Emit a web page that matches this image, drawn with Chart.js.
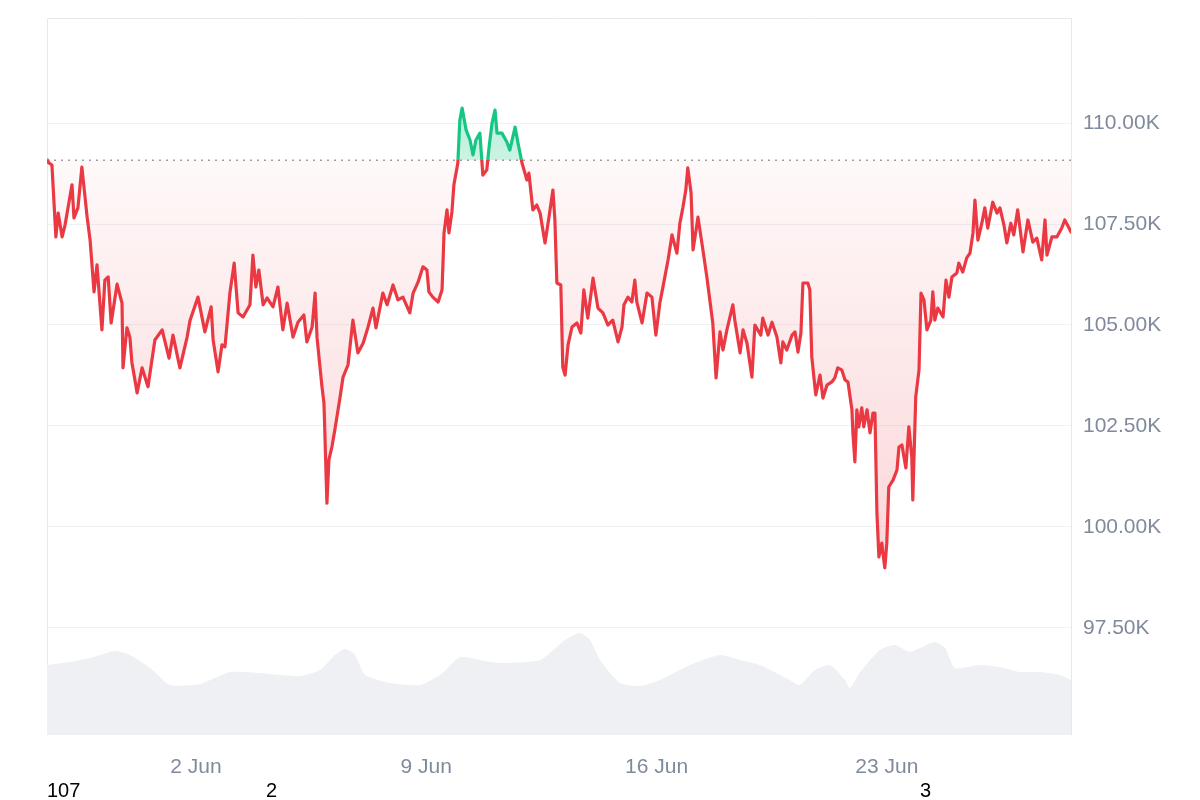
<!DOCTYPE html>
<html>
<head>
<meta charset="utf-8">
<title>Price chart</title>
<script src="https://cdn.jsdelivr.net/npm/chart.js@4.4.1/dist/chart.umd.min.js"></script>
<style>
  html, body { margin: 0; padding: 0; background: #fff; }
  #wrap { position: relative; width: 1200px; height: 800px; }
  .mark { position: absolute; top: 780px; font: 20px/20px "Liberation Sans", Arial, sans-serif; color: #000; }
</style>
</head>
<body>
<div id="wrap">
  <canvas id="chart" width="1200" height="800"></canvas>
  <div class="mark" style="left:47px">107</div>
  <div class="mark" style="left:266px">2</div>
  <div class="mark" style="left:920px">3</div>
</div>
<script>
// ---------- data (x = days since 28 May 00:00, prices in thousands) ----------
const baseline = 109.08;

const priceDays = [
  0.47, 0.50, 0.62, 0.74, 0.81, 0.93, 1.02, 1.23, 1.29, 1.41, 1.53, 1.69, 1.78, 1.90, 1.99,
  2.14, 2.23, 2.33, 2.42, 2.60, 2.75, 2.78, 2.90, 2.99, 3.05, 3.21, 3.36, 3.54, 3.75, 3.97,
  4.18, 4.30, 4.51, 4.73, 4.82, 5.06, 5.27, 5.46, 5.52, 5.67, 5.79, 5.88, 6.03, 6.16, 6.28,
  6.43, 6.64, 6.73, 6.82, 6.91, 7.04, 7.16, 7.34, 7.49, 7.64, 7.77, 7.95, 8.10, 8.28, 8.37,
  8.53, 8.62, 8.68, 8.83, 8.89, 8.98, 9.04, 9.13, 9.22, 9.38, 9.47, 9.62, 9.77, 9.92, 10.08,
  10.23, 10.38, 10.47, 10.68, 10.81, 10.99, 11.14, 11.29, 11.50, 11.60, 11.75, 11.90, 12.02, 12.08, 12.20,
  12.36, 12.48, 12.54, 12.63, 12.69, 12.78, 12.84, 12.96, 13.02, 13.09, 13.21, 13.33, 13.42, 13.51, 13.63,
  13.72, 13.84, 13.91, 14.00, 14.09, 14.15, 14.30, 14.45, 14.54, 14.70, 14.79, 14.91, 15.06, 15.12, 15.24,
  15.36, 15.46, 15.61, 15.73, 15.85, 15.91, 15.97, 16.09, 16.15, 16.22, 16.31, 16.43, 16.58, 16.70, 16.79,
  16.91, 17.07, 17.22, 17.37, 17.52, 17.67, 17.83, 17.95, 18.01, 18.13, 18.25, 18.34, 18.40, 18.56, 18.71,
  18.86, 18.98, 19.10, 19.19, 19.35, 19.47, 19.62, 19.71, 19.80, 19.89, 19.95, 20.05, 20.11, 20.26, 20.41,
  20.53, 20.62, 20.71, 20.81, 20.93, 21.02, 21.14, 21.32, 21.38, 21.54, 21.63, 21.75, 21.90, 21.99, 22.17,
  22.23, 22.39, 22.51, 22.66, 22.78, 22.84, 22.96, 23.12, 23.21, 23.30, 23.39, 23.45, 23.60, 23.66, 23.72,
  23.84, 23.97, 24.06, 24.18, 24.33, 24.42, 24.51, 24.63, 24.73, 24.82, 24.94, 24.97, 25.03, 25.09, 25.15,
  25.24, 25.30, 25.40, 25.49, 25.58, 25.64, 25.70, 25.76, 25.85, 25.88, 25.94, 26.00, 26.06, 26.19, 26.31,
  26.37, 26.46, 26.58, 26.67, 26.76, 26.79, 26.88, 26.98, 27.04, 27.13, 27.22, 27.34, 27.40, 27.46, 27.55,
  27.71, 27.80, 27.89, 27.98, 28.13, 28.19, 28.31, 28.43, 28.53, 28.62, 28.68, 28.77, 28.89, 28.98, 29.07,
  29.22, 29.35, 29.44, 29.56, 29.65, 29.77, 29.86, 29.98, 30.14, 30.29, 30.44, 30.56, 30.71, 30.81, 30.87,
  31.02, 31.17, 31.32, 31.41, 31.54, 31.60
];

const prices = [
  109.08, 109.03, 108.96, 107.18, 107.77, 107.18, 107.48, 108.47, 107.65, 107.90, 108.91, 107.67, 107.10, 105.82, 106.49,
  104.88, 106.11, 106.19, 105.05, 106.01, 105.54, 103.94, 104.93, 104.70, 104.08, 103.32, 103.94, 103.47, 104.63, 104.88,
  104.18, 104.75, 103.94, 104.70, 105.12, 105.69, 104.83, 105.45, 104.63, 103.84, 104.51, 104.46, 105.79, 106.53, 105.30,
  105.20, 105.50, 106.73, 105.94, 106.36, 105.50, 105.67, 105.45, 105.94, 104.88, 105.54, 104.70, 105.07, 105.25, 104.58,
  104.95, 105.79, 104.68, 103.47, 103.07, 100.59, 101.66, 101.98, 102.40, 103.22, 103.71, 104.01, 105.12, 104.31, 104.55,
  104.95, 105.42, 104.93, 105.79, 105.50, 105.99, 105.62, 105.69, 105.30, 105.79, 106.06, 106.44, 106.36, 105.82, 105.69,
  105.57, 105.87, 107.28, 107.85, 107.28, 107.80, 108.47, 109.01, 110.07, 110.37, 109.83, 109.58, 109.21, 109.58, 109.75,
  108.71, 108.84, 109.41, 110.00, 110.32, 109.75, 109.75, 109.53, 109.33, 109.90, 109.50, 109.01, 108.59, 108.76, 107.85,
  107.97, 107.77, 107.03, 107.67, 108.34, 107.60, 106.04, 105.99, 103.96, 103.76, 104.51, 104.95, 105.05, 104.80, 105.87,
  105.17, 106.16, 105.42, 105.30, 105.00, 105.12, 104.58, 104.95, 105.50, 105.69, 105.57, 106.11, 105.57, 105.05, 105.79,
  105.69, 104.75, 105.54, 105.92, 106.61, 107.23, 106.78, 107.52, 107.90, 108.34, 108.89, 108.27, 106.86, 107.67, 106.86,
  106.19, 105.62, 105.05, 103.69, 104.83, 104.38, 104.88, 105.50, 105.12, 104.31, 104.88, 104.55, 103.71, 105.00, 104.75,
  105.17, 104.75, 105.07, 104.70, 104.06, 104.58, 104.38, 104.75, 104.83, 104.33, 104.80, 106.04, 106.04, 105.87, 104.21,
  103.27, 103.76, 103.19, 103.51, 103.59, 103.69, 103.94, 103.89, 103.64, 103.59, 102.90, 102.33, 101.61, 102.90, 102.48,
  102.95, 102.48, 102.90, 102.33, 102.82, 102.82, 100.35, 99.26, 99.60, 99.36, 98.99, 99.60, 100.99, 101.16, 101.41,
  101.98, 102.03, 101.46, 102.48, 101.73, 100.67, 103.22, 103.89, 105.79, 105.62, 104.88, 105.12, 105.82, 105.12, 105.42,
  105.20, 106.11, 105.69, 106.19, 106.29, 106.53, 106.31, 106.66, 106.78, 107.28, 108.09, 107.10, 107.52, 107.90, 107.40,
  108.04, 107.77, 107.90, 107.48, 107.03, 107.52, 107.23, 107.85, 106.81, 107.60, 107.05, 107.15, 106.61, 107.60, 106.73,
  107.18, 107.18, 107.40, 107.60, 107.40, 107.30
];

// volume (billions), sampled more coarsely
const volumeDays = [
  0.47, 1.17, 1.78, 2.54, 2.99, 3.60, 4.21, 5.12, 6.03, 6.95, 8.16, 8.77, 9.22, 9.53, 9.83,
  10.14, 10.90, 11.81, 12.42, 13.02, 13.63, 14.24, 15.46, 16.22, 16.67, 16.98, 17.28, 17.89, 18.50, 19.10,
  20.02, 20.93, 21.54, 22.14, 23.05, 23.36, 23.81, 24.27, 24.73, 24.88, 25.19, 25.79, 26.25, 26.70, 27.01,
  27.46, 27.77, 28.07, 28.82, 29.43, 30.05, 30.65, 31.26, 31.60
];
const volumes = [
  35, 36.5, 38.5, 42, 40, 33.5, 25, 25.5, 31.5, 31, 29.5, 32.5, 40, 43, 40,
  30, 26, 25, 30, 39, 37.5, 36, 37.5, 47.5, 51, 47.5, 37.5, 26, 24.5, 27.5,
  35, 40, 37.5, 35, 27.5, 25, 32.5, 35, 27.5, 23.5, 31.5, 42.5, 45, 41.5, 43.5,
  46.5, 43.5, 33.5, 35, 34, 31.5, 31.5, 30, 27.5
];

const yTicks = [97.5, 100, 102.5, 105, 107.5, 110];
const xTickDays = [5, 12, 19, 26];
const xTickLabels = ["2 Jun", "9 Jun", "16 Jun", "23 Jun"];

// ---------- styling ----------
const RED = "#ea3943";
const GREEN = "#16c784";
const AXIS_TEXT = "#808a9d";
const FONT = "'Liberation Sans', Arial, sans-serif";

// vertical gradient that switches colour exactly at the baseline
function splitGradient(ctx, stops) {
  const chart = ctx.chart;
  const area = chart.chartArea;
  if (!area) return null;
  const yb = chart.scales.y.getPixelForValue(baseline);
  const s = Math.min(Math.max((yb - area.top) / (area.bottom - area.top), 0), 1);
  const g = chart.ctx.createLinearGradient(0, area.top, 0, area.bottom);
  stops(g, s);
  return g;
}

const lineColor = (ctx) =>
  splitGradient(ctx, (g, s) => {
    g.addColorStop(0, GREEN);
    g.addColorStop(s, GREEN);
    g.addColorStop(s, RED);
    g.addColorStop(1, RED);
  }) || RED;

const fillColor = (ctx) =>
  splitGradient(ctx, (g, s) => {
    g.addColorStop(0, "rgba(22,199,132,0.45)");
    g.addColorStop(s, "rgba(22,199,132,0.22)");
    g.addColorStop(s, "rgba(234,57,67,0.03)");
    g.addColorStop(Math.min(s + 0.55, 1), "rgba(234,57,67,0.20)");
    g.addColorStop(1, "rgba(234,57,67,0.20)");
  }) || "rgba(234,57,67,0.06)";

// light frame round the plot area
const framePlugin = {
  id: "frame",
  beforeDatasetsDraw(chart) {
    const { ctx, chartArea: a } = chart;
    ctx.save();
    ctx.strokeStyle = "#e6e8ec";
    ctx.lineWidth = 1;
    ctx.beginPath();
    ctx.moveTo(a.left + 0.5, a.bottom);
    ctx.lineTo(a.left + 0.5, a.top + 0.5);
    ctx.lineTo(a.right + 0.5, a.top + 0.5);
    ctx.lineTo(a.right + 0.5, a.bottom);
    ctx.stroke();
    ctx.restore();
  },
};

new Chart(document.getElementById("chart"), {
  type: "line",
  data: {
    datasets: [
      {
        label: "Price",
        data: priceDays.map((d, i) => ({ x: d, y: prices[i] })),
        borderColor: lineColor,
        backgroundColor: fillColor,
        borderWidth: 3.2,
        borderJoinStyle: "round",
        borderCapStyle: "round",
        pointRadius: 0,
        tension: 0,
        fill: { value: baseline },
        order: 1,
      },
      {
        label: "Open",
        data: [
          { x: priceDays[0], y: baseline },
          { x: priceDays[priceDays.length - 1], y: baseline },
        ],
        borderColor: "#9aa0a8",
        borderWidth: 1.5,
        borderDash: [2, 5],
        pointRadius: 0,
        fill: false,
        order: 2,
      },
      {
        label: "Volume",
        data: volumeDays.map((d, i) => ({ x: d, y: volumes[i] })),
        yAxisID: "yVol",
        borderWidth: 0,
        backgroundColor: "#eef0f3",
        pointRadius: 0,
        tension: 0.2,
        fill: "origin",
        order: 3,
      },
    ],
  },
  options: {
    responsive: false,
    animation: false,
    layout: { padding: { left: 47, top: 18, right: 0, bottom: 0 } },
    plugins: {
      legend: { display: false },
      tooltip: { enabled: false },
    },
    scales: {
      x: {
        type: "linear",
        min: 0.47,
        max: 31.6,
        grid: { display: false, drawTicks: false },
        border: { display: false },
        afterBuildTicks: (s) => { s.ticks = xTickDays.map((v) => ({ value: v })); },
        afterFit: (s) => { s.height = 65; s.paddingLeft = 0; s.paddingRight = 0; },
        ticks: {
          color: AXIS_TEXT,
          font: { family: FONT, size: 21 },
          padding: 20,
          maxRotation: 0,
          autoSkip: false,
          callback: (v) => xTickLabels[xTickDays.indexOf(v)] || "",
        },
      },
      y: {
        position: "right",
        min: 94.85,
        max: 112.6,
        grid: { color: "#eff1f3", drawTicks: false },
        border: { display: false },
        afterBuildTicks: (s) => { s.ticks = yTicks.map((v) => ({ value: v })); },
        afterFit: (s) => { s.width = 129; s.paddingTop = 0; s.paddingBottom = 0; },
        ticks: {
          color: AXIS_TEXT,
          font: { family: FONT, size: 21 },
          padding: 12,
          callback: (v) => Number(v).toFixed(2) + "K",
        },
      },
      yVol: {
        display: false,
        min: 0,
        max: 358.5,
      },
    },
  },
  plugins: [framePlugin],
});
</script>
</body>
</html>
